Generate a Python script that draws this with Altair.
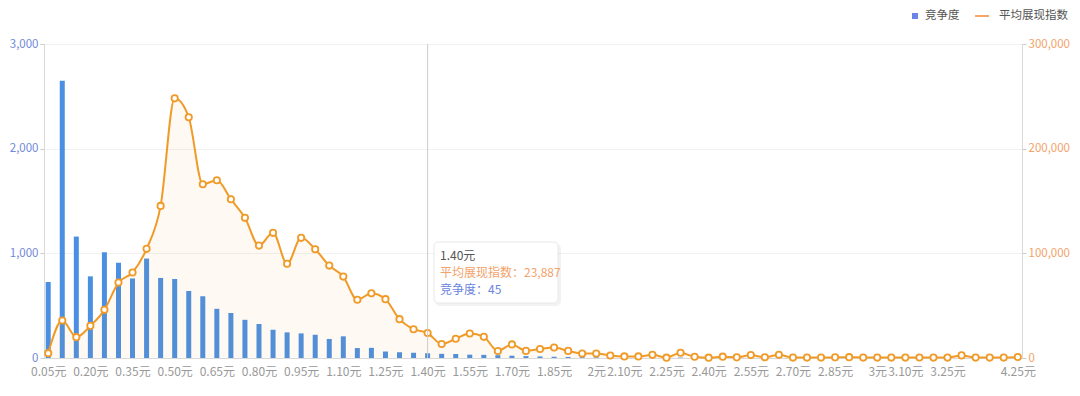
import altair as alt
import pandas as pd

categories = [
    "0.05元", "0.10元", "0.15元", "0.20元", "0.25元", "0.30元", "0.35元", "0.40元", "0.45元", "0.50元",
    "0.55元", "0.60元", "0.65元", "0.70元", "0.75元", "0.80元", "0.85元", "0.90元", "0.95元", "1元",
    "1.05元", "1.10元", "1.15元", "1.20元", "1.25元", "1.30元", "1.35元", "1.40元", "1.45元", "1.50元",
    "1.55元", "1.60元", "1.65元", "1.70元", "1.75元", "1.80元", "1.85元", "1.90元", "1.95元", "2元",
    "2.05元", "2.10元", "2.15元", "2.20元", "2.25元", "2.30元", "2.35元", "2.40元", "2.45元", "2.50元",
    "2.55元", "2.60元", "2.65元", "2.70元", "2.75元", "2.80元", "2.85元", "2.90元", "2.95元", "3元",
    "3.05元", "3.10元", "3.15元", "3.20元", "3.25元", "3.30元", "3.50元", "3.80元", "4元", "4.25元",
]

competition = [
    725, 2650, 1160, 780, 1010, 910, 760, 950, 765, 755,
    640, 590, 470, 430, 365, 325, 270, 245, 235, 222,
    182, 207, 95, 97, 62, 55, 50, 45, 40, 38,
    32, 30, 27, 22, 18, 15, 12, 10, 8, 7,
    6, 5, 5, 4, 4, 4, 3, 3, 3, 3,
    3, 3, 3, 2, 2, 2, 2, 2, 2, 2,
    2, 2, 2, 2, 2, 2, 2, 2, 2, 2,
]

exposure = [
    4600, 35800, 19900, 30700, 46000, 72100, 81700, 104300, 145300, 248100,
    230000, 166000, 169800, 151700, 133900, 107400, 119600, 90000, 114800, 103900,
    88300, 77800, 55600, 61900, 56200, 37100, 27500, 23887, 13400, 18400,
    23400, 20200, 6700, 13000, 6800, 8600, 10000, 6800, 4300, 4300,
    2400, 1500, 1500, 3000, 300, 5000, 1200, 300, 1300, 600,
    2800, 700, 3000, 400, 400, 400, 600, 800, 400, 400,
    400, 400, 500, 400, 400, 2500, 400, 400, 400, 900,
]

shown_labels = [
    "0.05元", "0.20元", "0.35元", "0.50元", "0.65元", "0.80元", "0.95元", "1.10元", "1.25元",
    "1.40元", "1.55元", "1.70元", "1.85元", "2元", "2.10元", "2.25元", "2.40元", "2.55元",
    "2.70元", "2.85元", "3元", "3.10元", "3.25元", "4.25元",
]

left_ticks = [0, 1000, 2000, 3000]
right_ticks = [0, 100000, 200000, 300000]

series_names = ["竞争度", "平均展现指数"]
tip_category = "1.40元"

df = pd.DataFrame({"cat": categories, "jz": competition, "zs": exposure})

W, H = 978, 314
FONT = "Noto Sans CJK SC"
BLUE = "#4a8fe2"
ORANGE = "#f09a28"

xscale = alt.Scale(type="point", domain=categories, padding=0.3)
xaxis = alt.Axis(
    values=shown_labels, title=None, labelAngle=0, ticks=False, domainColor="#d9d9d9",
    labelColor="#999999", labelFontSize=12, labelPadding=8, labelFont=FONT, grid=False,
    labelOverlap=False,
)
xenc = alt.X("cat:N", scale=xscale, sort=None, axis=xaxis)

bars = alt.Chart(df).mark_bar(size=5, color=BLUE).encode(
    x=xenc,
    y=alt.Y(
        "jz:Q",
        scale=alt.Scale(domain=[0, 3000]),
        axis=alt.Axis(
            orient="left", values=left_ticks, format=",d", title=None, labelColor="#7088d8",
            tickColor="#cccccc", tickSize=4, domainColor="#d9d9d9", gridColor="#f1f1f1",
            labelPadding=2, labelFont=FONT, labelFontSize=11.5,
        ),
    ),
)

base = alt.Chart(df).encode(
    x=xenc,
    y=alt.Y(
        "zs:Q",
        scale=alt.Scale(domain=[0, 300000]),
        axis=alt.Axis(
            orient="right", values=right_ticks, format=",d", title=None, grid=False,
            labelColor="#f2a26a", tickColor="#cccccc", tickSize=4, domainColor="#d9d9d9",
            labelPadding=2, labelFont=FONT, labelFontSize=11.5,
        ),
    ),
)
area = base.mark_area(color=ORANGE, opacity=0.06, interpolate="monotone")
line = base.mark_line(color=ORANGE, strokeWidth=2, interpolate="monotone")
pts = base.mark_point(
    shape="circle", fill="white", fillOpacity=1, stroke=ORANGE, strokeWidth=1.8, size=40, opacity=1
)
line_group = alt.layer(area, line, pts)

# tooltip / axis pointer
idx = categories.index(tip_category)
tip_df = pd.DataFrame({"cat": [tip_category]})
vrule = alt.Chart(tip_df).mark_rule(color="#cccccc", strokeWidth=1).encode(
    x=xenc, y=alt.value(0), y2=alt.value(H)
)
shadow = alt.Chart(tip_df).mark_rect(fill="#000000", opacity=0.05, cornerRadius=5).encode(
    x=alt.value(391), x2=alt.value(517), y=alt.value(200), y2=alt.value(262)
)
box = alt.Chart(tip_df).mark_rect(fill="white", stroke="#e8e8e8", strokeWidth=1, cornerRadius=4).encode(
    x=alt.value(390), x2=alt.value(514), y=alt.value(198), y2=alt.value(259)
)
tip_text_df = pd.DataFrame({
    "t": [tip_category, f"{series_names[1]}：{exposure[idx]:,}", f"{series_names[0]}：{competition[idx]}"],
    "c": ["#555555", "#f3a26a", "#6a85e0"],
    "yy": [212, 229, 246],
})
tip_texts = alt.Chart(tip_text_df).mark_text(
    align="left", baseline="middle", font=FONT, fontSize=12
).encode(
    x=alt.value(396), y=alt.Y("yy:Q", scale=None), text="t:N", color=alt.Color("c:N", scale=None)
)

# legend
leg_sq = alt.Chart(tip_df).mark_point(shape="square", filled=True, color="#6b84e6", size=36, opacity=1).encode(
    x=alt.value(871), y=alt.value(-28)
)
leg_t1 = alt.Chart(tip_df).mark_text(
    align="left", baseline="middle", font=FONT, fontSize=11.5, color="#555555", text=series_names[0]
).encode(x=alt.value(881), y=alt.value(-28))
leg_line = alt.Chart(tip_df).mark_rule(color="#f2a66a", strokeWidth=2).encode(
    x=alt.value(931), x2=alt.value(945), y=alt.value(-28)
)
leg_t2 = alt.Chart(tip_df).mark_text(
    align="left", baseline="middle", font=FONT, fontSize=11.5, color="#555555", text=series_names[1]
).encode(x=alt.value(955), y=alt.value(-28))

chart = alt.layer(
    bars, line_group, vrule, shadow, box, tip_texts, leg_sq, leg_t1, leg_line, leg_t2
).resolve_scale(y="independent").properties(
    width=W, height=H,
    autosize=alt.AutoSizeParams(type="none"),
    padding={"left": 36, "top": 36, "right": 50, "bottom": 30},
).configure_view(stroke=None).configure(font=FONT)

chart.save("out.html", embed_options={"renderer": "svg", "actions": False})
